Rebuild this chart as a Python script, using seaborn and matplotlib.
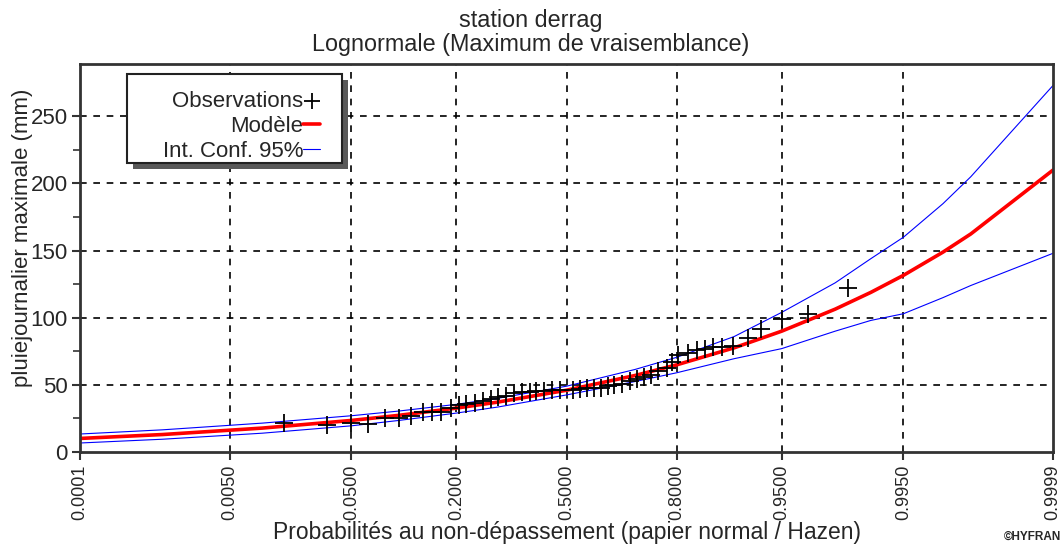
from statistics import NormalDist

import matplotlib
matplotlib.use("Agg")
import matplotlib.pyplot as plt
from matplotlib.patches import Rectangle
import numpy as np
import pandas as pd
import seaborn as sns

# --- data -----------------------------------------------------------------
# Observed annual daily-maximum rainfall with its Hazen plotting position
obs_prob = [0.0155, 0.0336, 0.0500, 0.0643, 0.0823, 0.1003, 0.1170, 0.1357,
            0.1515, 0.1685, 0.1894, 0.2060, 0.2220, 0.2420, 0.2610, 0.2810,
            0.3015, 0.3228, 0.3446, 0.3670, 0.3900, 0.4090, 0.4325, 0.4560,
            0.4800, 0.5200, 0.5400, 0.5610, 0.5820, 0.6026, 0.6230, 0.6430,
            0.6630, 0.6850, 0.7040, 0.7220, 0.7400, 0.7590, 0.7780, 0.7910,
            0.8040, 0.8230, 0.8400, 0.8545, 0.8680, 0.8820, 0.8980, 0.9170,
            0.9310, 0.9500, 0.9674, 0.9842]
obs_value = [21.6, 20.0, 21.6, 21.0, 25.0, 25.0, 27.0, 30.0, 30.0, 30.0,
             33.0, 35.0, 36.0, 36.5, 38.0, 39.5, 41.0, 42.0, 44.0, 44.5,
             45.0, 45.5, 45.5, 46.0, 46.0, 46.5, 47.0, 47.6, 48.0, 48.0,
             49.0, 50.0, 51.0, 53.0, 54.0, 56.0, 57.0, 60.0, 62.5, 67.0,
             72.0, 74.0, 76.0, 77.0, 78.0, 78.0, 79.0, 85.0, 91.5, 99.0,
             103.0, 122.0]

# Fitted lognormal quantiles and 95 % confidence bounds
fit_prob = [0.0001, 0.001, 0.01, 0.05, 0.1, 0.2, 0.3, 0.5, 0.7, 0.8, 0.9,
            0.95, 0.98, 0.99, 0.995, 0.998, 0.999, 0.9999]
model = [10.1, 13.0, 17.8, 23.5, 27.3, 32.7, 37.2, 46.0, 57.0, 64.9, 77.6,
         90.0, 106.4, 118.9, 131.6, 148.9, 162.4, 210.0]
upper = [13.4, 16.5, 21.5, 27.0, 30.5, 35.5, 40.0, 49.0, 61.5, 70.5, 86.0,
         104.0, 126.0, 144.0, 160.0, 185.0, 205.0, 273.0]
lower = [6.7, 9.5, 14.0, 19.5, 23.5, 29.0, 33.5, 42.5, 52.5, 59.0, 69.5,
         77.0, 90.0, 98.0, 103.0, 115.0, 124.0, 148.0]

x_ticks = [0.0001, 0.0050, 0.0500, 0.2000, 0.5000, 0.8000, 0.9500, 0.9950, 0.9999]
y_ticks = [0, 50, 100, 150, 200, 250]
y_minor = [25, 75, 125, 175, 225]

station = "station derrag"
method = "Lognormale (Maximum de vraisemblance)"
x_label = "Probabilités au non-dépassement (papier normal / Hazen)"
y_label = "pluiejournalier maximale (mm)"

obs = pd.DataFrame({"p": obs_prob, "v": obs_value})
fit = pd.DataFrame({"p": fit_prob, "model": model, "upper": upper, "lower": lower})

# --- normal probability paper scale ---------------------------------------
_nd = NormalDist()
_ppf = np.vectorize(lambda p: _nd.inv_cdf(min(max(p, 1e-9), 1 - 1e-9)),
                    otypes=[float])
_cdf = np.vectorize(lambda z: _nd.cdf(z), otypes=[float])


def forward(p):
    return _ppf(np.asarray(p, dtype=float))


def inverse(z):
    return _cdf(np.asarray(z, dtype=float))


# --- figure ---------------------------------------------------------------
sns.set_theme(style="white")
plt.rcParams["font.family"] = ["Liberation Sans", "DejaVu Sans"]

fig = plt.figure(figsize=(10.63, 5.49), dpi=100)
ax = fig.add_axes([0.0753, 0.1767, 0.9153, 0.7067])

sns.lineplot(data=fit, x="p", y="upper", color="#0000ff", linewidth=0.8,
             ax=ax, label="Int. Conf. 95%", sort=False)
sns.lineplot(data=fit, x="p", y="lower", color="#0000ff", linewidth=0.8,
             ax=ax, sort=False)
sns.lineplot(data=fit, x="p", y="model", color="#ff0000", linewidth=2.6,
             ax=ax, label="Modèle", sort=False)
sns.scatterplot(data=obs, x="p", y="v", marker="+", color="black", s=150,
                linewidth=1.3, ax=ax, label="Observations", zorder=5)

ax.set_xscale("function", functions=(forward, inverse))
ax.set_xlim(0.0001, 0.9999)
ax.set_ylim(0, 289)

ax.set_xticks(x_ticks)
ax.set_xticklabels([f"{t:.4f}" for t in x_ticks], rotation=90, fontsize=13)
ax.set_xticks([], minor=True)
ax.set_yticks(y_ticks)
ax.set_yticks(y_minor, minor=True)
ax.tick_params(axis="y", labelsize=16)
ax.tick_params(axis="both", which="major", direction="out", length=6,
               width=1.5, color="#333333", left=True, bottom=True, pad=3)
ax.tick_params(axis="y", which="minor", direction="out", length=5,
               width=1.2, color="#333333", left=True)

# dashed grid over the interior tick positions
for t in x_ticks[1:-1]:
    ax.axvline(t, color="black", linestyle=(0, (4, 4)), linewidth=1.2, zorder=0.5)
for t in y_ticks[1:]:
    ax.axhline(t, color="black", linestyle=(0, (4, 4)), linewidth=1.2, zorder=0.5)

for s in ax.spines.values():
    s.set_visible(True)
    s.set_color("#333333")
    s.set_linewidth(2)

ax.set_xlabel(x_label, fontsize=16.5, labelpad=1)
ax.set_ylabel("")
fig.text(0.0207, 0.5665, y_label, rotation=90, ha="center", va="center",
         fontsize=16)
fig.text(0.4995, 1 - 20 / 549, station, ha="center", va="center", fontsize=16.8)
fig.text(0.4995, 1 - 45 / 549, method, ha="center", va="center", fontsize=16.8)

# legend box with drop shadow, text first and symbol on the right
box = dict(x0=0.0483, y0=0.745, w=0.221, h=0.229)
ax.add_patch(Rectangle((box["x0"] + 0.0062, box["y0"] - 0.0155), box["w"], box["h"],
                       transform=ax.transAxes, facecolor="0.35", edgecolor="none",
                       zorder=6, clip_on=False))
ax.add_patch(Rectangle((box["x0"], box["y0"]), box["w"], box["h"],
                       transform=ax.transAxes, facecolor="white",
                       edgecolor="#222222", linewidth=1.5, zorder=6.1,
                       clip_on=False))

handles, labels = ax.get_legend_handles_labels()
order = [labels.index(n) for n in ["Observations", "Modèle", "Int. Conf. 95%"]]
leg = ax.legend([handles[i] for i in order], [labels[i] for i in order],
                loc="upper right", bbox_to_anchor=(0.2467, 0.9297),
                borderaxespad=0, borderpad=0, markerfirst=False, fontsize=16,
                handlelength=0.75, handletextpad=0.0, labelspacing=0.17,
                frameon=False, markerscale=0.9)
leg.set_zorder(7)

fig.text(0.998, 0.012, "©HYFRAN", ha="right", va="bottom", fontsize=8.5,
         fontweight="bold")

fig.savefig("out.png", dpi=100)
